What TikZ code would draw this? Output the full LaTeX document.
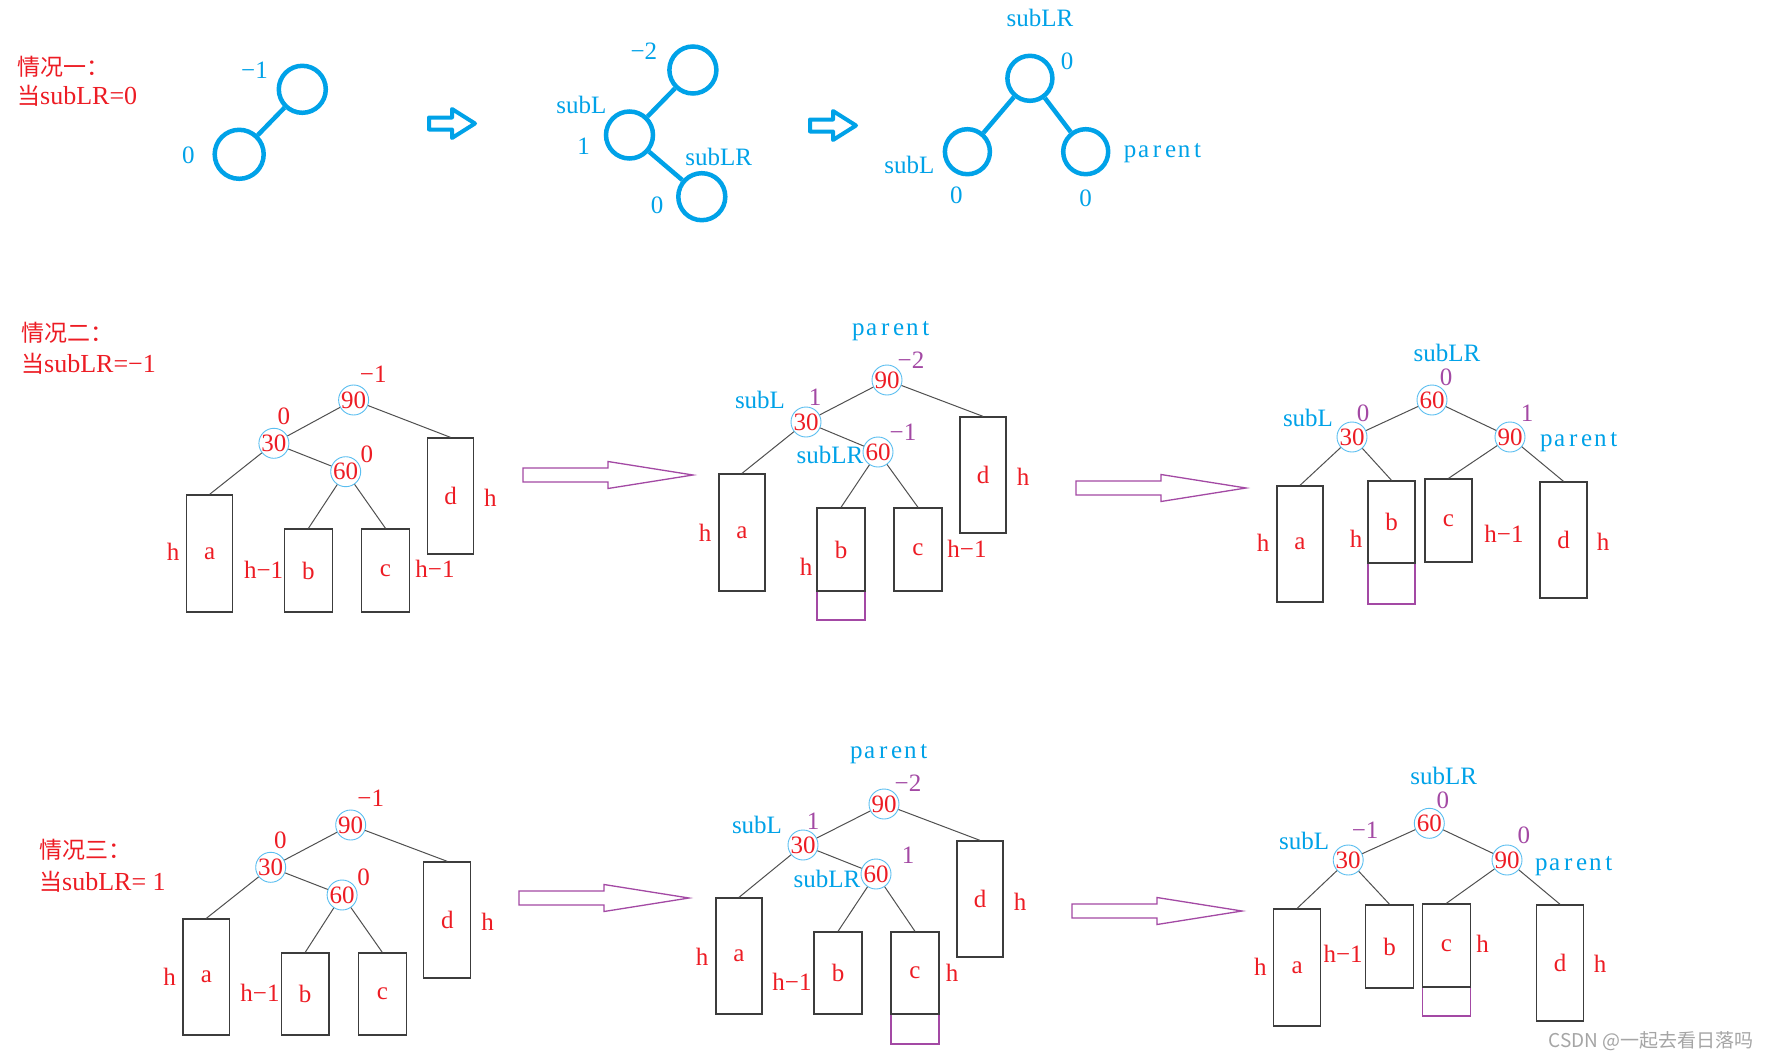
\documentclass[tikz,border=0pt]{standalone}
\usepackage{fontspec}
\setmainfont{Liberation Serif}
\newfontfamily\cjk{Noto Sans CJK SC}
\definecolor{pred}{RGB}{237,28,36}
\definecolor{pblue}{RGB}{0,162,232}
\definecolor{lblue}{RGB}{90,190,240}
\definecolor{ppurple}{RGB}{163,73,164}
\definecolor{bgray}{RGB}{60,60,60}
\definecolor{egray}{RGB}{80,80,80}
\definecolor{wgray}{RGB}{165,165,165}
\newcommand\fnNum{\fontsize{25}{28}\selectfont}
\newcommand\fnBlue{\fontsize{25}{28}\selectfont}
\newcommand\fnTitle{\fontsize{26}{28}\selectfont}
\newcommand\fnCjkT{\cjk\fontsize{23}{26}\selectfont}
\newcommand\fnWm{\fontsize{19}{21}\selectfont}
\newcommand\mb[1]{\makebox[0.54em]{#1}}
\newcommand\parentw{\mb{p}\mb{a}\mb{r}\mb{e}\mb{n}\mb{t}}
\tikzset{
 bigc/.style={circle, draw=pblue, line width=4.5pt, minimum size=47pt, inner sep=0pt},
 nc/.style={circle, draw=lblue, line width=0.9pt, minimum size=30pt, inner sep=0pt, font=\fnNum, text=pred},
 tbox/.style={rectangle, draw=bgray, line width=1.3pt, inner sep=0pt, font=\fnNum, text=pred},
 pbox/.style={rectangle, draw=ppurple, line width=1.3pt, inner sep=0pt},
 edge/.style={draw=egray, line width=1pt},
 bedge/.style={draw=pblue, line width=4.5pt},
 rlab/.style={text=pred, font=\fnNum, inner sep=0pt},
 plab/.style={text=ppurple, font=\fnNum, inner sep=0pt},
 blab/.style={text=pblue, font=\fnBlue, inner sep=0pt},
 ttl/.style={text=pred, font=\fnTitle, inner sep=0pt, anchor=west},
 parrow/.style={draw=ppurple, line width=1.3pt},
 barrow/.style={draw=pblue, line width=4pt, line join=round},
}
\begin{document}
\begin{tikzpicture}[x=1pt,y=-1pt]
\fill[white] (0,0) rectangle (1770,1060);
\useasboundingbox (0,0) rectangle (1770,1060);

% ---------- Case 1 ----------
\node[ttl] (t1a) at (17,67) {\fnCjkT 情况一：};
\node[ttl] (t1b) at (17,96) {{\fnCjkT 当}subLR=0};

\node[bigc] (a1) at (302.3,89.3) {};
\node[bigc, minimum size=49pt] (a2) at (239.2,154.3) {};
\draw[bedge] (a2) -- (a1);
\node[blab] (la1) at (254.5,70) {−1};
\node[blab] (la2) at (188.3,155) {0};

\draw[barrow] (429,123.5) ++(0,-6) -- ++(23,0) -- ++(0,-8.5) -- ++(23,14.5) -- ++(-23,14.5) -- ++(0,-8.5) -- ++(-23,0) -- cycle;

\node[bigc] (b1) at (692.9,70) {};
\node[bigc] (b2) at (629.5,135) {};
\node[bigc] (b3) at (701.8,196.7) {};
\draw[bedge] (b2) -- (b1);
\draw[bedge] (b2) -- (b3);
\node[blab] (lb1) at (643.8,51.7) {−2};
\node[blab] (lb2) at (581.3,105) {subL};
\node[blab] (lb3) at (583.5,146.7) {1};
\node[blab] (lb4) at (718.8,156.7) {subLR};
\node[blab] (lb5) at (657.1,205) {0};

\draw[barrow] (810,125.5) ++(0,-6) -- ++(23,0) -- ++(0,-8.5) -- ++(23,14.5) -- ++(-23,14.5) -- ++(0,-8.5) -- ++(-23,0) -- cycle;

\node[bigc, minimum size=45pt] (c1) at (1029.9,78.3) {};
\node[bigc, minimum size=45pt] (c2) at (967.4,151.7) {};
\node[bigc, minimum size=45pt] (c3) at (1085.7,151.7) {};
\draw[bedge] (c1) -- (c2);
\draw[bedge] (c1) -- (c3);
\node[blab] (lc1) at (1040,18.3) {subLR};
\node[blab] (lc2) at (1067,61.7) {0};
\node[blab] (lc3) at (909.4,165) {subL};
\node[blab] (lc4) at (956.3,195) {0};
\node[blab] (lc5) at (1163.8,153.3) {\parentw};
\node[blab] (lc6) at (1085.7,198.3) {0};

% ---------- Case 2 ----------
\node[ttl] (t2a) at (21,333) {\fnCjkT 情况二：};
\node[ttl] (t2b) at (21,364) {{\fnCjkT 当}subLR=−1};

% tree D
\node[nc] (d90) at (353.6,400) {\makebox[0pt]{90}};
\node[nc] (d30) at (273.9,443.3) {\makebox[0pt]{30}};
\node[nc] (d60) at (345.7,471.7) {\makebox[0pt]{60}};
\node[tbox, minimum width=46pt, minimum height=117pt] (da) at (209.6,553.5) {a};
\node[tbox, minimum width=47.5pt, minimum height=83pt] (db) at (308.4,570.5) {b};
\node[tbox, minimum width=47.5pt, minimum height=83pt] (dc) at (385.5,570.5) {c};
\node[tbox, minimum width=46pt, minimum height=116pt] (dd) at (450.5,496) {d};
\draw[edge] (d90) -- (d30);
\draw[edge] (d90) -- (dd.north);
\draw[edge] (d30) -- (da.north);
\draw[edge] (d30) -- (d60);
\draw[edge] (d60) -- (db.north);
\draw[edge] (d60) -- (dc.north);
\node[rlab] (ld1) at (373.2,374) {−1};
\node[rlab] (ld2) at (283.9,416.7) {0};
\node[rlab] (ld3) at (366.8,454) {0};
\node[rlab] (ld4) at (173.2,552.3) {h};
\node[rlab] (ld5) at (263.6,570) {h−1};
\node[rlab] (ld6) at (435,569.3) {h−1};
\node[rlab] (ld7) at (490.4,498.3) {h};

\draw[parrow] (523,475) ++(0,-7) -- ++(85,0) -- ++(0,-6.5) -- ++(85,13.5) -- ++(-85,13.5) -- ++(0,-6.5) -- ++(-85,0) -- cycle;

% tree E
\node[nc] (e90) at (887,380) {\makebox[0pt]{90}};
\node[nc] (e30) at (806,422) {\makebox[0pt]{30}};
\node[nc] (e60) at (878,452) {\makebox[0pt]{60}};
\node[pbox, minimum width=48pt, minimum height=29pt] (ebx) at (841,605.5) {};
\node[tbox, minimum width=46pt, minimum height=117pt] (ea) at (742,532.5) {a};
\node[tbox, minimum width=48pt, minimum height=83pt] (eb) at (841,549.5) {b};
\node[tbox, minimum width=48pt, minimum height=83pt] (ec) at (918,549.5) {c};
\node[tbox, minimum width=46pt, minimum height=116pt] (ed) at (983,475) {d};
\draw[edge] (e90) -- (e30);
\draw[edge] (e90) -- (ed.north);
\draw[edge] (e30) -- (ea.north);
\draw[edge] (e30) -- (e60);
\draw[edge] (e60) -- (eb.north);
\draw[edge] (e60) -- (ec.north);
\node[blab] (le1) at (892,331) {\parentw};
\node[plab] (le2) at (911,360) {−2};
\node[blab] (le3) at (760,400) {subL};
\node[plab] (le4) at (815,397) {1};
\node[plab] (le5) at (903,432) {−1};
\node[blab] (le6) at (830,455) {subLR};
\node[rlab] (le7) at (705,533) {h};
\node[rlab] (le8) at (806,567) {h};
\node[rlab] (le9) at (967,549) {h−1};
\node[rlab] (le10) at (1023,477) {h};

\draw[parrow] (1076,488) ++(0,-7) -- ++(85,0) -- ++(0,-6.5) -- ++(85,13.5) -- ++(-85,13.5) -- ++(0,-6.5) -- ++(-85,0) -- cycle;

% tree F
\node[nc] (f60) at (1432,400) {\makebox[0pt]{60}};
\node[nc] (f30) at (1352,437) {\makebox[0pt]{30}};
\node[nc] (f90) at (1510,437) {\makebox[0pt]{90}};
\node[pbox, minimum width=47pt, minimum height=41pt] (fbx) at (1391.5,583.5) {};
\node[tbox, minimum width=46pt, minimum height=116pt] (fa) at (1300,544) {a};
\node[tbox, minimum width=47pt, minimum height=82pt] (fb) at (1391.5,522) {b};
\node[tbox, minimum width=47pt, minimum height=83pt] (fc) at (1448.5,520.5) {c};
\node[tbox, minimum width=47pt, minimum height=116pt] (fd) at (1563.5,540) {d};
\draw[edge] (f60) -- (f30);
\draw[edge] (f60) -- (f90);
\draw[edge] (f30) -- (fa.north);
\draw[edge] (f30) -- (fb.north);
\draw[edge] (f90) -- (fc.north);
\draw[edge] (f90) -- (fd.north);
\node[blab] (lf1) at (1447,353) {subLR};
\node[plab] (lf2) at (1446,377) {0};
\node[blab] (lf3) at (1308,418) {subL};
\node[plab] (lf4) at (1363,413) {0};
\node[plab] (lf5) at (1527,413) {1};
\node[blab] (lf6) at (1580,442) {\parentw};
\node[rlab] (lf7) at (1263,543) {h};
\node[rlab] (lf8) at (1356,539) {h};
\node[rlab] (lf9) at (1504,534) {h−1};
\node[rlab] (lf10) at (1603,542) {h};

% ---------- Case 3 ----------
\node[ttl] (t3a) at (39,850) {\fnCjkT 情况三：};
\node[ttl] (t3b) at (39,882) {{\fnCjkT 当}subLR= 1};

% tree G
\node[nc] (g90) at (350.7,825) {\makebox[0pt]{90}};
\node[nc] (g30) at (270.7,867.3) {\makebox[0pt]{30}};
\node[nc] (g60) at (342.1,895) {\makebox[0pt]{60}};
\node[tbox, minimum width=46.7pt, minimum height=116pt] (ga) at (206.3,977) {a};
\node[tbox, minimum width=47.5pt, minimum height=82pt] (gb) at (305.2,994) {b};
\node[tbox, minimum width=48pt, minimum height=82pt] (gc) at (382.3,994) {c};
\node[tbox, minimum width=47pt, minimum height=116pt] (gd) at (447.3,920) {d};
\draw[edge] (g90) -- (g30);
\draw[edge] (g90) -- (gd.north);
\draw[edge] (g30) -- (ga.north);
\draw[edge] (g30) -- (g60);
\draw[edge] (g60) -- (gb.north);
\draw[edge] (g60) -- (gc.north);
\node[rlab] (lg1) at (370.7,798.3) {−1};
\node[rlab] (lg2) at (280.4,840) {0};
\node[rlab] (lg3) at (363.6,877.7) {0};
\node[rlab] (lg4) at (169.6,976.7) {h};
\node[rlab] (lg5) at (260,993.3) {h−1};
\node[rlab] (lg6) at (487.5,921.7) {h};

\draw[parrow] (519,898) ++(0,-7) -- ++(85,0) -- ++(0,-6.5) -- ++(85,13.5) -- ++(-85,13.5) -- ++(0,-6.5) -- ++(-85,0) -- cycle;

% tree H
\node[nc] (h90) at (884,804) {\makebox[0pt]{90}};
\node[nc] (h30) at (803,845) {\makebox[0pt]{30}};
\node[nc] (h60) at (876,874) {\makebox[0pt]{60}};
\node[pbox, minimum width=48pt, minimum height=30pt] (hcx) at (915,1029) {};
\node[tbox, minimum width=46pt, minimum height=116pt] (ha) at (739,956) {a};
\node[tbox, minimum width=48pt, minimum height=82pt] (hb) at (838,973) {b};
\node[tbox, minimum width=48pt, minimum height=82pt] (hc) at (915,973) {c};
\node[tbox, minimum width=46pt, minimum height=116pt] (hd) at (980,899) {d};
\draw[edge] (h90) -- (h30);
\draw[edge] (h90) -- (hd.north);
\draw[edge] (h30) -- (ha.north);
\draw[edge] (h30) -- (h60);
\draw[edge] (h60) -- (hb.north);
\draw[edge] (h60) -- (hc.north);
\node[blab] (lh1) at (890,754) {\parentw};
\node[plab] (lh2) at (908,783) {−2};
\node[blab] (lh3) at (757,825) {subL};
\node[plab] (lh4) at (813,821) {1};
\node[plab] (lh5) at (908,855) {1};
\node[blab] (lh6) at (827,879) {subLR};
\node[rlab] (lh7) at (702,957) {h};
\node[rlab] (lh8) at (792,982) {h−1};
\node[rlab] (lh9) at (952,973) {h};
\node[rlab] (lh10) at (1020,902) {h};

\draw[parrow] (1072,911) ++(0,-7) -- ++(85,0) -- ++(0,-6.5) -- ++(85,13.5) -- ++(-85,13.5) -- ++(0,-6.5) -- ++(-85,0) -- cycle;

% tree I
\node[nc] (i60) at (1429.3,823.3) {\makebox[0pt]{60}};
\node[nc] (i30) at (1348.2,860) {\makebox[0pt]{30}};
\node[nc] (i90) at (1507,860) {\makebox[0pt]{90}};
\node[pbox, minimum width=47.7pt, minimum height=29pt] (icx) at (1446.3,1001.5) {};
\node[tbox, minimum width=46.6pt, minimum height=117pt] (ia) at (1297.1,967.5) {a};
\node[tbox, minimum width=47.7pt, minimum height=83pt] (ib) at (1389.6,946.5) {b};
\node[tbox, minimum width=47.7pt, minimum height=83pt] (ic) at (1446.3,945.5) {c};
\node[tbox, minimum width=46.6pt, minimum height=116pt] (id) at (1560.1,963) {d};
\draw[edge] (i60) -- (i30);
\draw[edge] (i60) -- (i90);
\draw[edge] (i30) -- (ia.north);
\draw[edge] (i30) -- (ib.north);
\draw[edge] (i90) -- (ic.north);
\draw[edge] (i90) -- (id.north);
\node[blab] (li1) at (1443.8,776) {subLR};
\node[plab] (li2) at (1442.8,800.3) {0};
\node[blab] (li3) at (1304.2,841) {subL};
\node[plab] (li4) at (1365.1,830) {−1};
\node[plab] (li5) at (1523.9,835) {0};
\node[blab] (li6) at (1575,866) {\parentw};
\node[rlab] (li7) at (1260.3,966.7) {h};
\node[rlab] (li8) at (1343.1,954.3) {h−1};
\node[rlab] (li9) at (1482.7,944.3) {h};
\node[rlab] (li10) at (1600,964.3) {h};

\node[anchor=east, text=wgray, font=\fnWm, inner sep=0pt] (wm) at (1754,1041) {\cjk CSDN @一起去看日落吗};
\end{tikzpicture}
\end{document}
